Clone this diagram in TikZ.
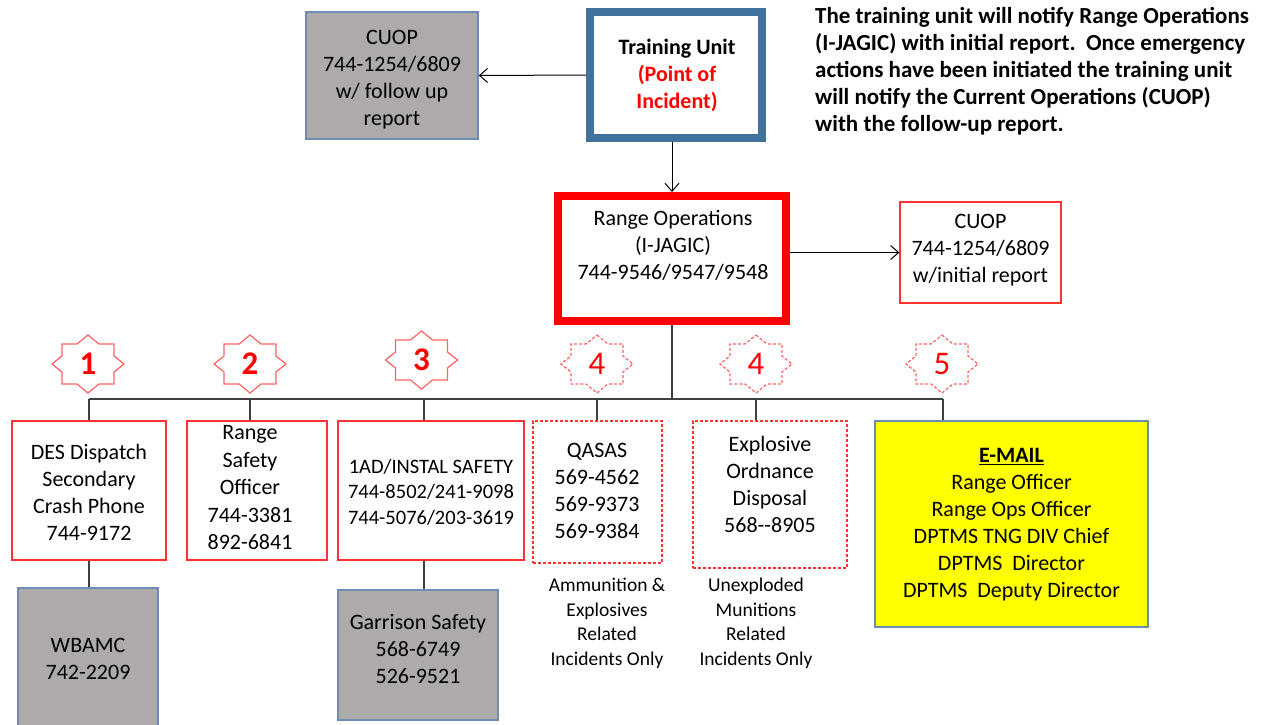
\documentclass[tikz,border=0pt]{standalone}
\usepackage{fontspec}
\setmainfont{Carlito}
\usetikzlibrary{arrows.meta}

\definecolor{boxgray}{HTML}{ADAAA9}
\definecolor{slate}{HTML}{6C8DB4}
\definecolor{steel}{HTML}{41719C}
\definecolor{linered}{HTML}{FF3333}
\definecolor{starred}{HTML}{FF6464}
\definecolor{wirecol}{HTML}{404040}
\definecolor{mailyellow}{HTML}{FFFF00}

\tikzset{
  box/.style={rectangle, draw, inner sep=0pt},
  redbox/.style={box, draw=linered, line width=1.3pt},
  dashbox/.style={redbox, dash pattern=on 3pt off 2pt},
  graybox/.style={box, fill=boxgray, draw=slate, line width=1.6pt},
  txt/.style={align=center, inner sep=0pt, font=\fontsize{22}{27}\selectfont},
  smalltxt/.style={align=center, inner sep=0pt, font=\fontsize{19.5}{24.5}\selectfont},
  numbold/.style={inner sep=0pt, text=red, font=\fontsize{33}{33}\selectfont\bfseries},
  numplain/.style={inner sep=0pt, text=red, font=\fontsize{33}{33}\selectfont},
  dashed badge/.style={dash pattern=on 3pt off 2pt},
  % eight-pointed star outline, a wide diamond over a rectangle
  badge/.pic={
    \draw[draw=starred, line width=1.2pt, line join=miter]
      (0,-29) -- (11,-20) -- (26,-20) -- (26,-8) -- (36,0) -- (26,8) -- (26,20)
      -- (11,20) -- (0,29) -- (-11,20) -- (-26,20) -- (-26,8) -- (-36,0)
      -- (-26,-8) -- (-26,-20) -- (-11,-20) -- cycle;
  },
  arr/.style={draw=black, line width=1pt, -{Straight Barb[length=8pt,width=14pt]}},
  wire/.style={draw=wirecol, line width=1.5pt},
}

\begin{document}
\begin{tikzpicture}[x=1pt,y=-1pt]
\useasboundingbox (0,0) rectangle (1264,724);
\clip (0,0) rectangle (1264,724);
\fill[white] (0,0) rectangle (1264,724);

% --- top row ---
\node[graybox, minimum width=172pt, minimum height=127pt] (cuopL) at (392,75.5) {};
\node[txt] (cuopLt) at (392,80) {CUOP\\744-1254/6809\\w/ follow up\\report};

\node[box, draw=steel, line width=8pt, minimum width=172pt, minimum height=126pt] (train) at (676,75) {};
\node[txt, font=\fontsize{22}{27}\selectfont\bfseries] (traint) at (677,75)
  {Training Unit\\\textcolor{red}{(Point of}\\\textcolor{red}{Incident)}};

\node[txt, align=left, anchor=west, font=\fontsize{23}{27}\selectfont\bfseries] (note) at (815,71)
  {The training unit will notify Range Operations\\
   (I-JAGIC) with initial report.\ \ Once emergency\\
   actions have been initiated the training unit\\
   will notify the Current Operations (CUOP)\\
   with the follow-up report.};

% --- range operations ---
\node[box, draw=red, line width=8pt, minimum width=228pt, minimum height=125pt] (ro) at (672,258.5) {};
\node[txt] (rot) at (673,245) {Range Operations\\(I-JAGIC)\\744-9546/9547/9548};

\node[redbox, minimum width=161pt, minimum height=101pt] (cuopR) at (980.5,252.5) {};
\node[txt] (cuopRt) at (980.5,250) {CUOP\\744-1254/6809\\w/initial report};

\draw[arr] (train.west) -- (cuopL.east);
\draw[arr] (ro.north |- train.south) -- (ro.north);
\draw[arr] (ro.east |- cuopR.west) -- (cuopR.west);

% --- branch line ---
\coordinate (b1) at (89,399);
\coordinate (b2) at (250,399);
\coordinate (b3) at (424,399);
\coordinate (b4) at (597,399);
\coordinate (b5) at (756,399);
\coordinate (b6) at (943,399);
\draw[wire] (ro.south) -- (ro.south |- b1);
\draw[wire] (b1) -- (b6);

% --- priority badges ---
\pic at (88,364) {badge};
\node[numbold] (s1) at (88,364) {1};
\pic at (250,364) {badge};
\node[numbold] (s2) at (250,364) {2};
\pic at (421.5,360) {badge};
\node[numbold] (s3) at (421.5,360) {3};
\pic[dashed badge] at (597,364) {badge};
\node[numplain] (s4) at (597,364) {4};
\pic[dashed badge] at (756,364) {badge};
\node[numplain] (s5) at (756,364) {4};
\pic[dashed badge] at (942,364) {badge};
\node[numplain] (s6) at (942,364) {5};

% --- contact boxes ---
\node[redbox, minimum width=154pt, minimum height=139pt] (des) at (89,490.5) {};
\node[txt] (dest) at (89,492.5) {DES Dispatch\\Secondary\\Crash Phone\\744-9172};

\node[redbox, minimum width=140pt, minimum height=139pt] (rso) at (257,490.5) {};
\node[txt, font=\fontsize{22}{27.5}\selectfont] (rsot) at (250,488) {Range\\Safety\\Officer\\744-3381\\892-6841};

\node[redbox, minimum width=186pt, minimum height=139pt] (sfty) at (431,490.5) {};
\node[txt, font=\fontsize{20.5}{25.5}\selectfont] (sftyt) at (431,492)
  {1AD/INSTAL SAFETY\\744-8502/241-9098\\744-5076/203-3619};

\node[dashbox, minimum width=129pt, minimum height=142pt] (qasas) at (597.5,492) {};
\node[txt] (qasast) at (597,491) {QASAS\\569-4562\\569-9373\\569-9384};

\node[dashbox, minimum width=154pt, minimum height=147pt] (eod) at (770,494.5) {};
\node[txt] (eodt) at (770,484) {Explosive\\Ordnance\\Disposal\\568-{}-8905};

\node[box, fill=mailyellow, draw=slate, line width=1.6pt, minimum width=273pt, minimum height=206pt] (mail) at (1011.5,524) {};
\node[txt] (mailt) at (1011.5,524.5)
  {\underline{\textbf{E-MAIL}}\\Range Officer\\Range Ops Officer\\DPTMS TNG DIV Chief\\DPTMS\ \ Director\\DPTMS\ \ Deputy Director};

\draw[wire] (b1) -- (b1 |- des.north);
\draw[wire] (b2) -- (b2 |- rso.north);
\draw[wire] (b3) -- (b3 |- sfty.north);
\draw[wire] (b4) -- (b4 |- qasas.north);
\draw[wire] (b5) -- (b5 |- eod.north);
\draw[wire] (b6) -- (b6 |- mail.north);

% --- scope notes ---
\node[smalltxt] (ammo) at (607,623.5) {Ammunition \&\\Explosives\\Related\\Incidents Only};
\node[smalltxt] (uxo) at (756,623.5) {Unexploded\\Munitions\\Related\\Incidents Only};

% --- secondary contacts ---
\node[graybox, minimum width=140pt, minimum height=146pt] (wbamc) at (88,661) {};
\node[txt] (wbamct) at (88,658.5) {WBAMC\\742-2209};
\draw[wire] (des.south) -- (des.south |- wbamc.north);

\node[graybox, minimum width=160pt, minimum height=130pt] (garr) at (418,655) {};
\node[txt] (garrt) at (418,649) {Garrison Safety\\568-6749\\526-9521};
\draw[wire] (b3 |- sfty.south) -- (b3 |- garr.north);

\end{tikzpicture}
\end{document}
